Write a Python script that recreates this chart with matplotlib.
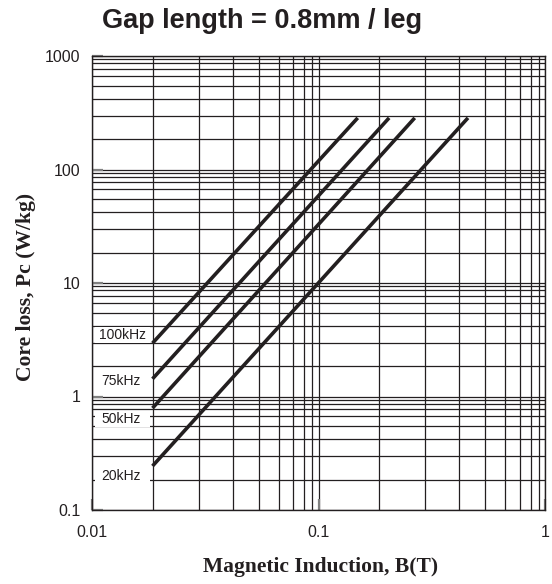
import numpy as np
import matplotlib
matplotlib.use("Agg")
import matplotlib.pyplot as plt
from matplotlib.ticker import FixedLocator, NullFormatter, FixedFormatter
from matplotlib.patches import Rectangle

# core loss curves
freqs = ["100kHz", "75kHz", "50kHz", "20kHz"]
b_start = [0.0185, 0.0185, 0.0185, 0.0185]
b_end = [0.149, 0.205, 0.266, 0.457]
pc_start = [2.95, 1.43, 0.79, 0.244]
pc_end = [285, 285, 285, 285]

x_ticks = [0.01, 0.1, 1]
x_ticklabels = ["0.01", "0.1", "1"]
y_ticks = [0.1, 1, 10, 100, 1000]
y_ticklabels = ["0.1", "1", "10", "100", "1000"]

# grid spacing inside one decade as printed on the original sheet
grid_frac = [0.268, 0.472, 0.622, 0.737, 0.824, 0.889, 0.938, 0.972]

ink = "#231f20"

fig = plt.figure(figsize=(5.52, 5.84), dpi=100)
ax = fig.add_axes([92 / 552, 1 - 510 / 584, 453 / 552, 454 / 584])
ax.set_xscale("log")
ax.set_yscale("log")
ax.set_xlim(0.01, 1)
ax.set_ylim(0.1, 1000)

x_minor = [10 ** (k + f) for k in (-2, -1) for f in grid_frac]
y_minor = [10 ** (k + f) for k in (-1, 0, 1, 2) for f in grid_frac]
ax.xaxis.set_major_locator(FixedLocator(x_ticks))
ax.xaxis.set_major_formatter(FixedFormatter(x_ticklabels))
ax.yaxis.set_major_locator(FixedLocator(y_ticks))
ax.yaxis.set_major_formatter(FixedFormatter(y_ticklabels))
ax.xaxis.set_minor_locator(FixedLocator(x_minor))
ax.yaxis.set_minor_locator(FixedLocator(y_minor))
ax.xaxis.set_minor_formatter(NullFormatter())
ax.yaxis.set_minor_formatter(NullFormatter())

ax.grid(True, which="both", color=ink, linewidth=0.9)
ax.tick_params(which="minor", length=0)
ax.tick_params(which="major", direction="in", length=8, width=1.6,
               color="#808080", labelsize=11.5, labelcolor=ink)
ax.tick_params(axis="y", which="major", pad=8.5)
ax.tick_params(axis="x", which="major", pad=11)
for lbl in ax.get_xticklabels() + ax.get_yticklabels():
    lbl.set_family("Liberation Sans")
for sp in ax.spines.values():
    sp.set_color(ink)
    sp.set_linewidth(1.0)

for i in range(len(freqs)):
    ax.plot([b_start[i], b_end[i]], [pc_start[i], pc_end[i]],
            color=ink, linewidth=2.6, solid_capstyle="butt", zorder=2.5)

# frequency labels on white patches
label_y = [0.385, 0.284, 0.200, 0.075]
for name, yy in zip(freqs, label_y):
    ax.add_patch(Rectangle((0.0066, yy - 0.0175), 0.1215, 0.035,
                           transform=ax.transAxes, facecolor="white",
                           edgecolor="none", zorder=3))
    ax.text(0.0155 if name == "100kHz" else 0.02, yy, name,
            transform=ax.transAxes, fontsize=10, family="Liberation Sans",
            color=ink, va="center", ha="left", zorder=4)

fig.text(0.475, 0.964, "Gap length = 0.8mm / leg", ha="center", va="center",
         fontsize=19.5, fontweight="bold", family="Liberation Sans", color=ink)
fig.text(0.58, 0.029, "Magnetic Induction, B(T)", ha="center", va="center",
         fontsize=15.5, fontweight="bold", family="Liberation Serif", color=ink)
fig.text(0.047, 0.509, "Core loss, Pc (W/kg)", ha="center", va="center",
         rotation=90, fontsize=15.6, fontweight="bold",
         family="Liberation Serif", color=ink)

fig.savefig("out.png", dpi=100, facecolor="white")
